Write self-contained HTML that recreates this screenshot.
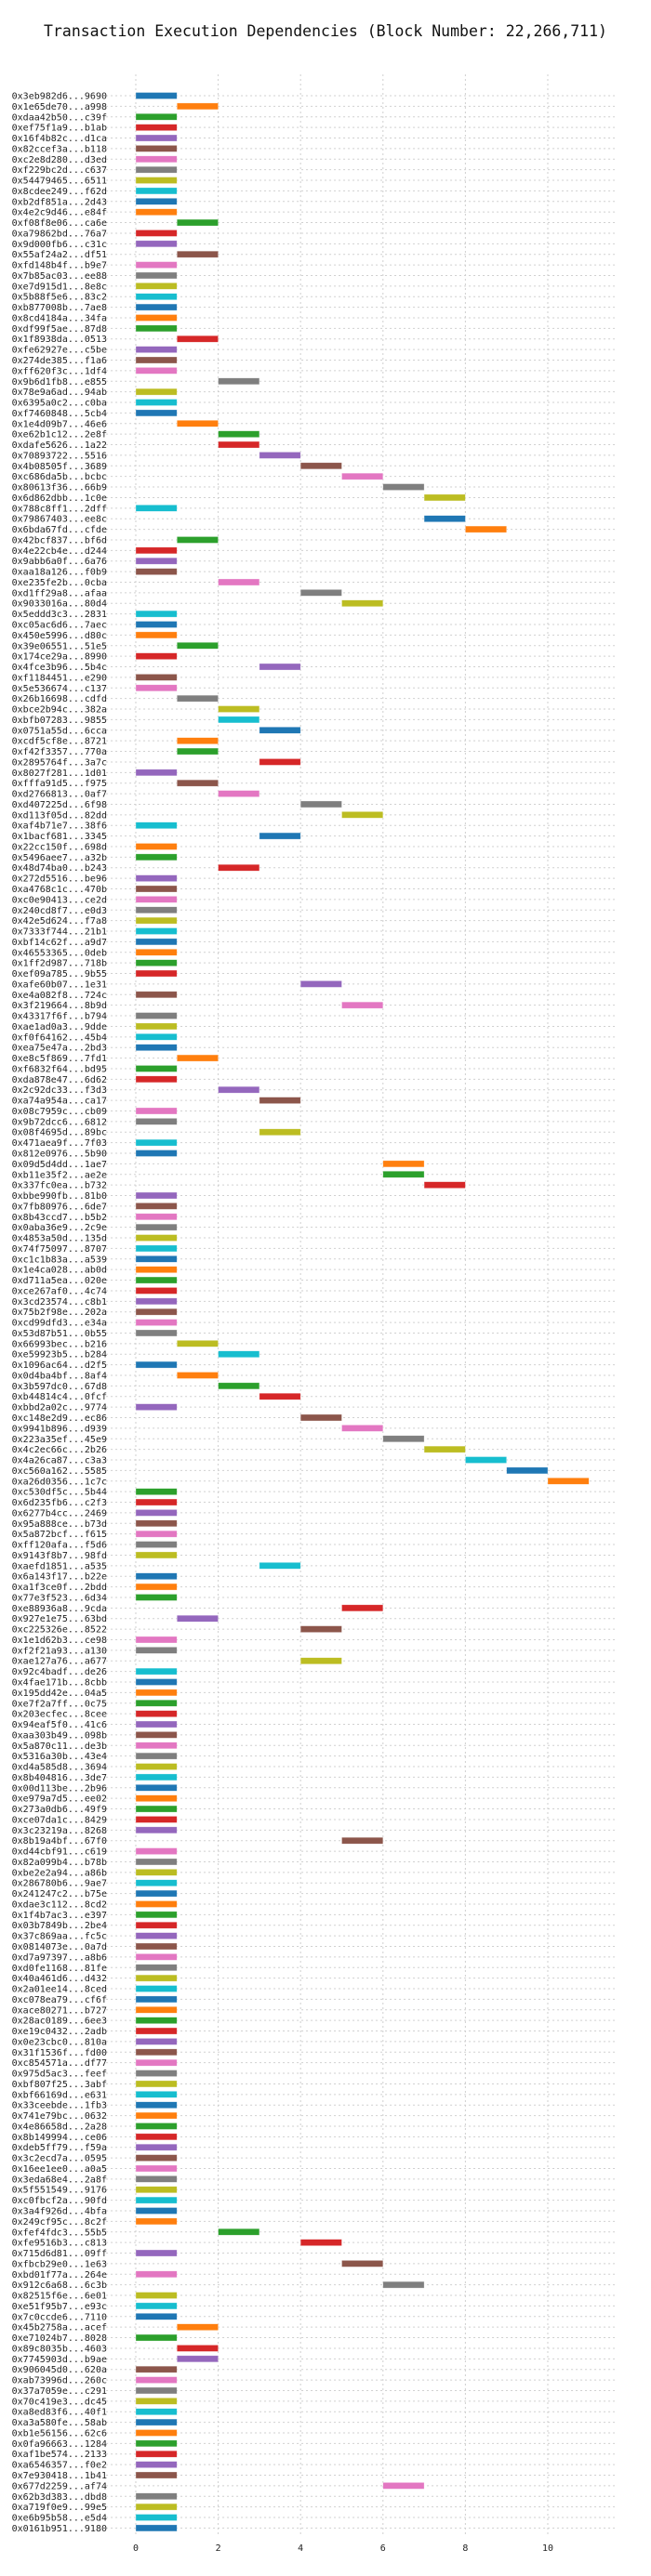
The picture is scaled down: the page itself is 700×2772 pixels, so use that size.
<!DOCTYPE html>
<html><head><meta charset="utf-8">
<style>
html,body{margin:0;padding:0;background:#fff;}
svg{display:block;}
text{font-family:"DejaVu Sans Mono","Liberation Mono",monospace;}
</style></head>
<body>
<svg id="chart" width="700" height="2772" viewBox="0 0 700 2772" xmlns="http://www.w3.org/2000/svg">
<rect width="700" height="2772" fill="#fff"/>
<text x="350" y="39" text-anchor="middle" font-size="16.5" fill="#111">Transaction Execution Dependencies (Block Number: 22,266,711)</text>
<g id="grid"></g><g id="bars"></g><g id="ylabels"></g><g id="xticks"></g>
</svg>
<script>
const txLabels = ["0x3eb982d6...9690","0x1e65de70...a998","0xdaa42b50...c39f","0xef75f1a9...b1ab","0x16f4b82c...d1ca","0x82ccef3a...b118","0xc2e8d280...d3ed","0xf229bc2d...c637","0x54479465...6511","0x8cdee249...f62d",
"0xb2df851a...2d43","0x4e2c9d46...e84f","0xf08f8e06...ca6e","0xa79862bd...76a7","0x9d000fb6...c31c","0x55af24a2...df51","0xfd148b4f...b9e7","0x7b85ac03...ee88","0xe7d915d1...8e8c","0x5b88f5e6...83c2",
"0xb877008b...7ae8","0x8cd4184a...34fa","0xdf99f5ae...87d8","0x1f8938da...0513","0xfe62927e...c5be","0x274de385...f1a6","0xff620f3c...1df4","0x9b6d1fb8...e855","0x78e9a6ad...94ab","0x6395a0c2...c0ba",
"0xf7460848...5cb4","0x1e4d09b7...46e6","0xe62b1c12...2e8f","0xdafe5626...1a22","0x70893722...5516","0x4b08505f...3689","0xc686da5b...bcbc","0x80613f36...66b9","0x6d862dbb...1c0e","0x788c8ff1...2dff",
"0x79867403...ee8c","0x6bda67fd...cfde","0x42bcf837...bf6d","0x4e22cb4e...d244","0x9abb6a0f...6a76","0xaa18a126...f0b9","0xe235fe2b...0cba","0xd1ff29a8...afaa","0x9033016a...80d4","0x5eddd3c3...2831",
"0xc05ac6d6...7aec","0x450e5996...d80c","0x39e06551...51e5","0x174ce29a...8990","0x4fce3b96...5b4c","0xf1184451...e290","0x5e536674...c137","0x26b16698...cdfd","0xbce2b94c...382a","0xbfb07283...9855",
"0x0751a55d...6cca","0xcdf5cf8e...8721","0xf42f3357...770a","0x2895764f...3a7c","0x8027f281...1d01","0xfffa91d5...f975","0xd2766813...0af7","0xd407225d...6f98","0xd113f05d...82dd","0xaf4b71e7...38f6",
"0x1bacf681...3345","0x22cc150f...698d","0x5496aee7...a32b","0x48d74ba0...b243","0x272d5516...be96","0xa4768c1c...470b","0xc0e90413...ce2d","0x240cd8f7...e0d3","0x42e5d624...f7a8","0x7333f744...21b1",
"0xbf14c62f...a9d7","0x46553365...0deb","0x1ff2d987...718b","0xef09a785...9b55","0xafe60b07...1e31","0xe4a082f8...724c","0x3f219664...8b9d","0x43317f6f...b794","0xae1ad0a3...9dde","0xf0f64162...45b4",
"0xea75e47a...2bd3","0xe8c5f869...7fd1","0xf6832f64...bd95","0xda878e47...6d62","0x2c92dc33...f3d3","0xa74a954a...ca17","0x08c7959c...cb09","0x9b72dcc6...6812","0x08f4695d...89bc","0x471aea9f...7f03",
"0x812e0976...5b90","0x09d5d4dd...1ae7","0xb11e35f2...ae2e","0x337fc0ea...b732","0xbbe990fb...81b0","0x7fb80976...6de7","0x8b43ccd7...b5b2","0x0aba36e9...2c9e","0x4853a50d...135d","0x74f75097...8707",
"0xc1c1b83a...a539","0x1e4ca028...ab0d","0xd711a5ea...020e","0xce267af0...4c74","0x3cd23574...c8b1","0x75b2f98e...202a","0xcd99dfd3...e34a","0x53d87b51...0b55","0x66993bec...b216","0xe59923b5...b284",
"0x1096ac64...d2f5","0x0d4ba4bf...8af4","0x3b597dc0...67d8","0xb44814c4...0fcf","0xbbd2a02c...9774","0xc148e2d9...ec86","0x9941b896...d939","0x223a35ef...45e9","0x4c2ec66c...2b26","0x4a26ca87...c3a3",
"0xc560a162...5585","0xa26d0356...1c7c","0xc530df5c...5b44","0x6d235fb6...c2f3","0x6277b4cc...2469","0x95a888ce...b73d","0x5a872bcf...f615","0xff120afa...f5d6","0x9143f8b7...98fd","0xaefd1851...a535",
"0x6a143f17...b22e","0xa1f3ce0f...2bdd","0x77e3f523...6d34","0xe88936a8...9cda","0x927e1e75...63bd","0xc225326e...8522","0x1e1d62b3...ce98","0xf2f21a93...a130","0xae127a76...a677","0x92c4badf...de26",
"0x4fae171b...8cbb","0x195dd42e...04a5","0xe7f2a7ff...0c75","0x203ecfec...8cee","0x94eaf5f0...41c6","0xaa303b49...098b","0x5a870c11...de3b","0x5316a30b...43e4","0xd4a585d8...3694","0x8b404816...3de7",
"0x00d113be...2b96","0xe979a7d5...ee02","0x273a0db6...49f9","0xce07da1c...8429","0x3c23219a...8268","0x8b19a4bf...67f0","0xd44cbf91...c619","0x82a099b4...b78b","0xbe2e2a94...a86b","0x286780b6...9ae7",
"0x241247c2...b75e","0xdae3c112...8cd2","0x1f4b7ac3...e397","0x03b7849b...2be4","0x37c869aa...fc5c","0x0814073e...0a7d","0xd7a97397...a8b6","0xd0fe1168...81fe","0x40a461d6...d432","0x2a01ee14...8ced",
"0xc078ea79...cf6f","0xace80271...b727","0x28ac0189...6ee3","0xe19c0432...2adb","0x0e23cbc0...810a","0x31f1536f...fd00","0xc854571a...df77","0x975d5ac3...feef","0xbf807f25...3abf","0xbf66169d...e631",
"0x33ceebde...1fb3","0x741e79bc...0632","0x4e86658d...2a28","0x8b149994...ce06","0xdeb5ff79...f59a","0x3c2ecd7a...0595","0x16ee1ee0...a0a5","0x3eda68e4...2a8f","0x5f551549...9176","0xc0fbcf2a...90fd",
"0x3a4f926d...4bfa","0x249cf95c...8c2f","0xfef4fdc3...55b5","0xfe9516b3...c813","0x715d6d81...09ff","0xfbcb29e0...1e63","0xbd01f77a...264e","0x912c6a68...6c3b","0x82515f6e...6e01","0xe51f95b7...e93c",
"0x7c0ccde6...7110","0x45b2758a...acef","0xe71024b7...8028","0x89c8035b...4603","0x7745903d...b9ae","0x906045d0...620a","0xab73996d...260c","0x37a7059e...c291","0x70c419e3...dc45","0xa8ed83f6...40f1",
"0xa3a580fe...58ab","0xb1e56156...62c6","0x0fa96663...1284","0xaf1be574...2133","0xa6546357...f0e2","0x7e930418...1b41","0x677d2259...af74","0x62b3d383...dbd8","0xa719f0e9...99e5","0xe6b95b58...e5d4",
"0x0161b951...9180"];
const startTimes = [0,1,0,0,0,0,0,0,0,0, 0,0,1,0,0,1,0,0,0,0, 0,0,0,1,0,0,0,2,0,0,
0,1,2,2,3,4,5,6,7,0, 7,8,1,0,0,0,2,4,5,0, 0,0,1,0,3,0,0,1,2,2,
3,1,1,3,0,1,2,4,5,0, 3,0,0,2,0,0,0,0,0,0, 0,0,0,0,4,0,5,0,0,0,
0,1,0,0,2,3,0,0,3,0, 0,6,6,7,0,0,0,0,0,0, 0,0,0,0,0,0,0,0,1,2,
0,1,2,3,0,4,5,6,7,8, 9,10,0,0,0,0,0,0,0,3, 0,0,0,5,1,4,0,0,4,0,
0,0,0,0,0,0,0,0,0,0, 0,0,0,0,0,5,0,0,0,0, 0,0,0,0,0,0,0,0,0,0,
0,0,0,0,0,0,0,0,0,0, 0,0,0,0,0,0,0,0,0,0, 0,0,2,4,0,5,0,6,0,0,
0,1,0,1,1,0,0,0,0,0, 0,0,0,0,0,0,6,0,0,0, 0];
const durations = startTimes.map(() => 1);
const xTicks = [0,2,4,6,8,10];
const palette = ["#1f77b4","#ff7f0e","#2ca02c","#d62728","#9467bd","#8c564b","#e377c2","#7f7f7f","#bcbd22","#17becf"];

const NS = "http://www.w3.org/2000/svg";
const X0 = 146, UNIT = 44.3, XMIN = -0.63, XMAX = 11.63;
const Y0 = 103, STEP = 11.38, YTOP = 80, YBOT = 2727;
const xs = v => X0 + v * UNIT;
const ys = i => Y0 + i * STEP;
function mk(tag, attrs, parent){ const e = document.createElementNS(NS, tag); for (const k in attrs) e.setAttribute(k, attrs[k]); parent.appendChild(e); return e; }
const grid = document.getElementById('grid'), bars = document.getElementById('bars'), yl = document.getElementById('ylabels'), xt = document.getElementById('xticks');

xTicks.forEach(t => {
  const l = mk('line', {x1: xs(t), x2: xs(t), y1: YTOP, y2: YBOT, stroke: '#cfcfcf', 'stroke-width': 1, 'stroke-dasharray': '2,3'}, grid);
  
  
  const tx = mk('text', {x: xs(t), y: 2745, 'text-anchor': 'middle', 'font-size': 10, fill: '#222'}, xt);
  tx.textContent = t;
  
  
});

txLabels.forEach((lab, i) => {
  const y = ys(i);
  const g = mk('line', {x1: xs(XMIN) - 4, x2: xs(XMAX), y1: y, y2: y, stroke: '#cfcfcf', 'stroke-width': 1, 'stroke-dasharray': '2,3'}, grid);
  
  
  const t = mk('text', {x: 115, y: y + 3.5, 'text-anchor': 'end', 'font-size': 10, fill: '#222'}, yl);
  t.textContent = lab;
  
  
  const r = mk('rect', {x: xs(startTimes[i]), y: y - 3.5, width: durations[i] * UNIT, height: 7, fill: palette[i % 10], stroke: 'rgba(255,255,255,0.5)', 'stroke-width': 0.6}, bars);
  
  
});
</script>
</body></html>
